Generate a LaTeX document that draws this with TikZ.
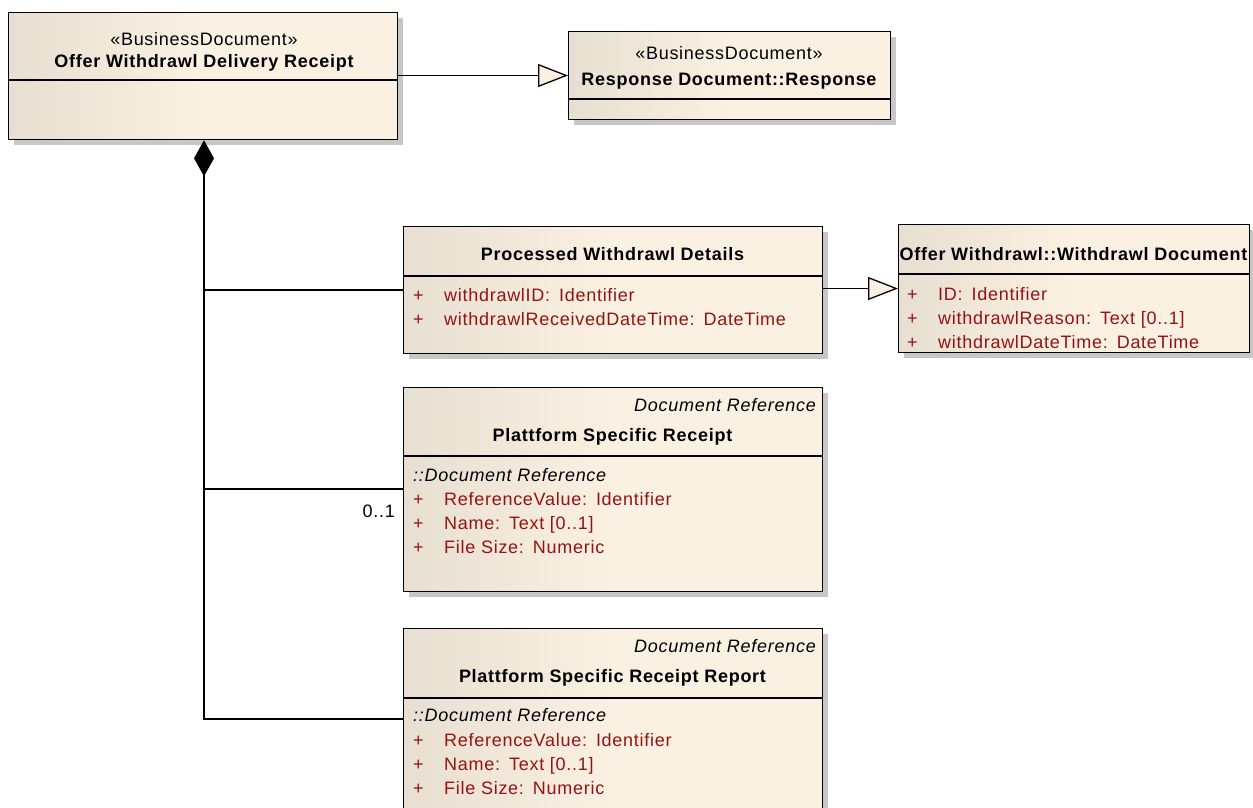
\documentclass[tikz,border=0pt]{standalone}
\usepackage{fontspec}
\setmainfont{Liberation Sans}[LetterSpace=4]
\usetikzlibrary{shadows,arrows.meta}
\definecolor{umlleft}{RGB}{231,223,209}
\definecolor{umlright}{RGB}{251,241,227}
\definecolor{attrred}{RGB}{150,18,18}
\pgfdeclarehorizontalshading{umlfade}{100bp}{color(0bp)=(umlleft); color(25bp)=(umlleft); color(50bp)=(umlright); color(100bp)=(umlright)}
\newcommand{\umlfont}{\fontsize{18}{21}\selectfont}
\newcommand{\plusattr}[1]{\makebox[31pt][l]{+}#1}
\begin{document}
\begin{tikzpicture}[x=1pt,y=-1pt,
    umlbox/.style={draw=black,line width=1.3pt,shading=umlfade,
      drop shadow={shadow xshift=5pt,shadow yshift=-5pt,fill=black!22,opacity=1},
      inner sep=0pt,anchor=north west},
    sttext/.style={anchor=base,inner sep=0pt,font=\umlfont},
    nametext/.style={anchor=base,inner sep=0pt,font=\umlfont\bfseries},
    attrtext/.style={anchor=base west,inner sep=0pt,font=\umlfont,text=attrred},
    basetext/.style={anchor=base east,inner sep=0pt,font=\umlfont\itshape},
    inhtext/.style={anchor=base west,inner sep=0pt,font=\umlfont\itshape},
    link/.style={line width=1.3pt},
    general/.style={link,-{Triangle[length=30pt,width=23pt,fill=umlright]}},
    compose/.style={link,{Diamond[length=36pt,width=20pt]}-}]
  \useasboundingbox (0,0) rectangle (1253,808);
  \clip (0,0) rectangle (1253,808);

  % class boxes
  \node[umlbox,minimum width=389pt,minimum height=127pt] (receipt) at (8,12) {};
  \node[umlbox,minimum width=322pt,minimum height=88pt] (response) at (568,31) {};
  \node[umlbox,minimum width=419pt,minimum height=127pt] (details) at (403,226) {};
  \node[umlbox,minimum width=351pt,minimum height=128pt] (withdrawdoc) at (898,224) {};
  \node[umlbox,minimum width=419pt,minimum height=204pt] (platform) at (403,387) {};
  \node[umlbox,minimum width=419pt,minimum height=200pt] (report) at (403,628) {};

  % compartments
  \draw[link] (receipt.west |- 0,80) -- (receipt.east |- 0,80);
  \draw[link] (response.west |- 0,99) -- (response.east |- 0,99);
  \draw[link] (details.west |- 0,276) -- (details.east |- 0,276);
  \draw[link] (withdrawdoc.west |- 0,274) -- (withdrawdoc.east |- 0,274);
  \draw[link] (platform.west |- 0,456) -- (platform.east |- 0,456);
  \draw[link] (report.west |- 0,698) -- (report.east |- 0,698);

  % Offer Withdrawl Delivery Receipt
  \node[sttext] (receipt-st) at (204,45.5) {«BusinessDocument»};
  \node[nametext] (receipt-name) at (204,67) {Offer Withdrawl Delivery Receipt};

  % Response Document::Response
  \node[sttext] (response-st) at (729,59.3) {«BusinessDocument»};
  \node[nametext] (response-name) at (729,85) {Response Document::Response};

  % Processed Withdrawl Details
  \node[nametext] (details-name) at (612.5,260.7) {Processed Withdrawl Details};
  \node[attrtext] (details-a1) at (413,301.5) {\plusattr{withdrawlID:\hspace{9pt}Identifier}};
  \node[attrtext] (details-a2) at (413,325.5) {\plusattr{withdrawlReceivedDateTime:\hspace{9pt}DateTime}};

  % Offer Withdrawl::Withdrawl Document
  \node[nametext] (withdrawdoc-name) at (1073.5,260.7) {Offer Withdrawl::Withdrawl Document};
  \node[attrtext] (withdrawdoc-a1) at (907,300) {\plusattr{ID:\hspace{9pt}Identifier}};
  \node[attrtext] (withdrawdoc-a2) at (907,324) {\plusattr{withdrawlReason:\hspace{9pt}Text [0..1]}};
  \node[attrtext] (withdrawdoc-a3) at (907,348) {\plusattr{withdrawlDateTime:\hspace{9pt}DateTime}};

  % Plattform Specific Receipt
  \node[basetext] (platform-base) at (816,411) {Document Reference};
  \node[nametext] (platform-name) at (612.5,441.5) {Plattform Specific Receipt};
  \node[inhtext] (platform-inh) at (413,481.7) {::Document Reference};
  \node[attrtext] (platform-a1) at (413,505.5) {\plusattr{ReferenceValue:\hspace{9pt}Identifier}};
  \node[attrtext] (platform-a2) at (413,529.5) {\plusattr{Name:\hspace{9pt}Text [0..1]}};
  \node[attrtext] (platform-a3) at (413,553.5) {\plusattr{File Size:\hspace{9pt}Numeric}};

  % Plattform Specific Receipt Report
  \node[basetext] (report-base) at (816,652.7) {Document Reference};
  \node[nametext] (report-name) at (612.5,682.7) {Plattform Specific Receipt Report};
  \node[inhtext] (report-inh) at (413,721.7) {::Document Reference};
  \node[attrtext] (report-a1) at (413,746) {\plusattr{ReferenceValue:\hspace{9pt}Identifier}};
  \node[attrtext] (report-a2) at (413,770) {\plusattr{Name:\hspace{9pt}Text [0..1]}};
  \node[attrtext] (report-a3) at (413,794) {\plusattr{File Size:\hspace{9pt}Numeric}};

  % connectors
  \coordinate (trunk) at (204,719);
  \draw[compose] (receipt.south -| trunk) -- (trunk) -- (trunk -| report.west);
  \draw[link] (trunk |- 0,290) -- (details.west |- 0,290);
  \draw[link] (trunk |- 0,489) -- (platform.west |- 0,489);
  \node[anchor=base east,inner sep=0pt,font=\umlfont] (platform-mult) at (395,517.3) {0..1};
  \draw[general] (receipt.east |- 0,75.5) -- (response.west |- 0,75.5);
  \draw[general] (details.east |- 0,288.5) -- (withdrawdoc.west |- 0,288.5);
\end{tikzpicture}
\end{document}
